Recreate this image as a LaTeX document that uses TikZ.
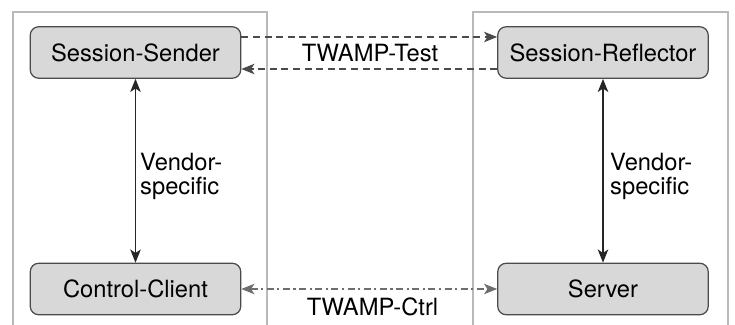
\documentclass[tikz,border=0pt]{standalone}
\usepackage{fontspec}
\setmainfont{TeX Gyre Heros}
\usetikzlibrary{arrows.meta}
\definecolor{panelgray}{RGB}{185,185,185}
\definecolor{boxfill}{RGB}{216,216,216}
\definecolor{boxline}{RGB}{75,75,75}
\definecolor{ctrlgray}{RGB}{110,110,110}
\tikzset{
	entity/.style={draw=boxline, fill=boxfill, line width=0.7pt, rounded corners=0.17cm,
		minimum width=4.21cm, minimum height=1.03cm, font=\fontsize{13.5}{14}\selectfont},
	tip/.style={-{Stealth[length=7.5pt,width=6pt,inset=2pt]}},
	tips/.style={{Stealth[length=7.5pt,width=6pt,inset=2pt]}-{Stealth[length=7.5pt,width=6pt,inset=2pt]}},
	testline/.style={draw=boxline, line width=0.7pt, dash pattern=on 4pt off 2.6pt},
	ctrlline/.style={draw=ctrlgray, line width=0.8pt, dash pattern=on 4pt off 2pt on 1.2pt off 2pt},
	vendorline/.style={draw=black!85, line width=0.8pt},
	lbl/.style={font=\fontsize{13.5}{13.6}\selectfont}
}
\begin{document}
\begin{tikzpicture}
	\useasboundingbox (0,0) rectangle (14.7,6.5);
	% the two sides
	\draw[panelgray, line width=1.1pt] (0.26,0) -- (0.26,6.26) -- (5.34,6.26) -- (5.34,0);
	\draw[panelgray, line width=1.1pt] (9.46,0) -- (9.46,6.26) -- (14.56,6.26) -- (14.56,0);
	\node[entity] at (2.71,5.45) (sender) {Session-Sender};
	\node[entity] at (12.06,5.45) (reflector) {Session-Reflector};
	\node[entity] at (2.71,0.72) (client) {Control-Client};
	\node[entity] at (12.06,0.72) (server) {Server};
	\node[lbl] at (7.4,5.44) (test) {TWAMP-Test};
	\node[lbl] at (7.45,0.37) (ctrl) {TWAMP-Ctrl};
	\node[lbl, align=left, anchor=west] at (2.68,2.98) (vendorl) {Vendor-\\specific};
	\node[lbl, align=left, anchor=west] at (12.08,2.98) (vendorr) {Vendor-\\specific};
	\path ([yshift=0.31cm]sender.east) edge[testline, tip] ([yshift=0.31cm]reflector.west)
	([yshift=-0.33cm]reflector.west) edge[testline, tip] ([yshift=-0.33cm]sender.east)
	(client.east) edge[ctrlline, tips] (server.west)
	(sender.south) edge[vendorline, tips] (client.north)
	(reflector.south) edge[vendorline, tips] (server.north);
\end{tikzpicture}
\end{document}
